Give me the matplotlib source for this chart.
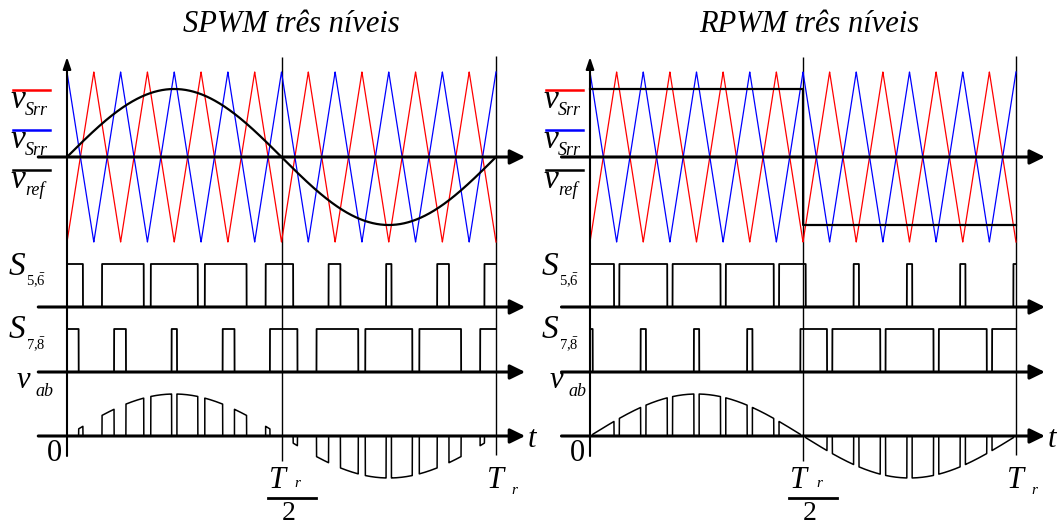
import numpy as np
import matplotlib
matplotlib.use('Agg')
import matplotlib.pyplot as plt
from matplotlib.lines import Line2D

plt.rcParams.update({
    'font.family': 'Liberation Serif',
    'mathtext.fontset': 'custom',
    'mathtext.rm': 'Liberation Serif',
    'mathtext.it': 'Liberation Serif:italic',
})

W, H = 1060, 528

# modulation setup: two carriers in phase opposition, reference amplitude M_INDEX
N_CARRIER = 8            # carrier periods per output period T_r
M_INDEX = 0.8            # reference amplitude, carrier peak = 1
carrier_knots = np.linspace(0.0, 1.0, 2 * N_CARRIER + 1)
blue_knots = np.array([1.0, -1.0] * N_CARRIER + [1.0])
red_knots = -blue_knots
t_marks = [0.5, 1.0]

t = np.linspace(0.0, 1.0, 40001)
blue = np.interp(t, carrier_knots, blue_knots)
red = np.interp(t, carrier_knots, red_knots)
envelope = np.abs(np.sin(2 * np.pi * t))

references = {
    'SPWM': M_INDEX * np.sin(2 * np.pi * t),
    'RPWM': np.where(t < 0.5, M_INDEX, -M_INDEX),
}

# row layout (pixels from the top)
ROW_TOP, AMP_TOP = 157, 85
ROW_S56, ROW_S78, PULSE_H = 307, 372, 43
ROW_VAB, AMP_VAB = 436, 42
T_START, T_ARROW = -0.067, 1.068

fig = plt.figure(figsize=(W / 100, H / 100), dpi=100)


def put(x, y, s, size, style='italic', ha='left', va='baseline', **kw):
    fig.text(x / W, 1 - y / H, s, fontsize=size, style=style, ha=ha, va=va, **kw)


def hline(x0, x1, y, color='k', lw=1.6):
    fig.add_artist(Line2D([x0 / W, x1 / W], [1 - y / H, 1 - y / H],
                          color=color, lw=lw, transform=fig.transFigure))


panels = [
    # name, axes left px, axes width px, t=0 px, T px, label shift, title x
    ('SPWM', 0, 530, 67, 429, 0, 291),
    ('RPWM', 530, 530, 590, 426, 533, 809),
]

for name, left, width, x0, tpx, dx, title_x in panels:
    ax = fig.add_axes([left / W, 0, width / W, 1])
    ax.set_xlim((left - x0) / tpx, (left + width - x0) / tpx)
    ax.set_ylim(H, 0)
    ax.axis('off')

    ref = references[name]
    s56 = (ref > red).astype(float)
    s78 = (blue > ref).astype(float)
    vab = (s56 - s78) * envelope

    # time markers and vertical axis
    ax.vlines(t_marks[0], 57, 461, color='k', lw=1.0)
    ax.vlines(t_marks[1], 56, 455, color='k', lw=1.0)
    ax.annotate('', xy=(0, 57), xytext=(0, 456),
                arrowprops=dict(arrowstyle='-|>,head_length=0.5,head_width=0.17',
                                color='k', lw=1.5, shrinkA=0, shrinkB=0,
                                mutation_scale=14))

    # carriers and reference
    ax.plot(t, ROW_TOP - AMP_TOP * red, color='#ff0000', lw=0.9)
    ax.plot(t, ROW_TOP - AMP_TOP * blue, color='#0000ff', lw=0.9)
    ax.plot(t, ROW_TOP - AMP_TOP * ref, color='k', lw=1.6)

    # gate signals and output voltage
    ax.plot(t, ROW_S56 - PULSE_H * s56, color='k', lw=1.3)
    ax.plot(t, ROW_S78 - PULSE_H * s78, color='k', lw=1.3)
    ax.plot(t, ROW_VAB - AMP_VAB * vab, color='k', lw=1.1)

    for row in (ROW_TOP, ROW_S56, ROW_S78, ROW_VAB):
        ax.annotate('', xy=(T_ARROW, row), xytext=(T_START, row),
                    arrowprops=dict(arrowstyle='-|>,head_length=0.45,head_width=0.22',
                                    color='k', lw=2.2, shrinkA=0, shrinkB=0,
                                    mutation_scale=20))

    # titles and row labels
    put(title_x, 32, f'{name} três níveis', 22, ha='center')

    for y, col, sub in ((90, '#ff0000', 'Srr'), (130, '#0000ff', 'Srr'), (170, 'k', 'ref')):
        hline(13 + dx, 50 + dx, y, color=col, lw=1.8)
        put(11 + dx, y + 18, 'v', 24)
        put(25 + dx, y + 25, sub, 13)

    put(9 + dx, 275, 'S', 24)
    put(26 + dx, 286, r'$\mathrm{5{,}}\bar{\mathrm{6}}$', 10.5, style='normal')
    put(9 + dx, 338, 'S', 24)
    put(26 + dx, 350, r'$\mathrm{7{,}}\bar{\mathrm{8}}$', 10.5, style='normal')
    put(17 + dx, 388, 'v', 22)
    put(35 + dx, 396, 'ab', 13)
    put(x0 - 13, 461, '0', 22, style='normal', ha='center')

    # time tick labels
    xh = x0 + 0.5 * tpx
    xt = x0 + tpx
    put(xh - 13, 488, 'T', 22)
    put(xh + 13, 487, 'r', 11)
    hline(xh - 14, xh + 34, 498, lw=2.0)
    put(xh + 7, 520, '2', 20, style='normal', ha='center')
    put(xt - 9, 488, 'T', 22)
    put(xt + 15, 494, 'r', 11)
    put(x0 + 1.067 * tpx + 3, 447, 't', 22)

fig.savefig('out.png', dpi=100)
